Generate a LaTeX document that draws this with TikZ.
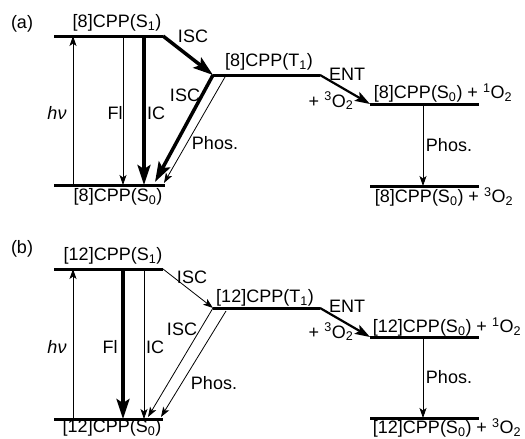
\documentclass[tikz,border=0pt]{standalone}
\usepackage{fontspec}
\setmainfont{Liberation Sans}
\usetikzlibrary{arrows.meta}

\tikzset{
  level/.style={line width=3pt},
  thinarr/.style={line width=.8pt,-{Stealth[length=10pt,width=7pt,inset=2.5pt]}},
  midarr/.style={line width=2.2pt,-{Stealth[length=15pt,width=10pt,inset=3pt]}},
  thickarr/.style={line width=3.5pt,-{Stealth[length=20pt,width=13pt,inset=4pt]}},
  lbl/.style={inner sep=0pt},
}

\begin{document}
\begin{tikzpicture}[x=1pt,y=-1pt,font=\fontsize{18}{21}\selectfont]
\useasboundingbox (0,0) rectangle (525,439);
% columns of the vertical arrows
\coordinate (xhv) at (73,0);
\coordinate (xfl) at (123,0);
\coordinate (xic) at (144,0);
\coordinate (xph) at (423,0);
% (a) [8]CPP
\node[lbl] (alab) at (22,24) {(a)};
\coordinate (aS1w) at (54,36);
\coordinate (aS1e) at (163,36);
\coordinate (aS0w) at (54,185);
\coordinate (aS0e) at (165,185);
\coordinate (aT1w) at (213,75);
\coordinate (aT1e) at (320,75);
\coordinate (aOw) at (370,104);
\coordinate (aOe) at (479,104);
\coordinate (aGw) at (370,186);
\coordinate (aGe) at (479,186);
\coordinate (aIsc) at (155,182);
\coordinate (aPh1) at (225,77);
\coordinate (aPh2) at (164,183);
\draw[level] (aS1w) -- (aS1e);
\draw[level] (aS0w) -- (aS0e);
\draw[level] (aT1w) -- (aT1e);
\draw[level] (aOw) -- (aOe);
\draw[level] (aGw) -- (aGe);
\node[lbl] (aS1) at (117,23) {[8]CPP(S\textsubscript{1})};
\node[lbl] (aS0) at (118,197) {[8]CPP(S\textsubscript{0})};
\node[lbl] (aT1) at (269,62) {[8]CPP(T\textsubscript{1})};
\node[lbl] (aO) at (443,93) {[8]CPP(S\textsubscript{0}) + \textsuperscript{1}O\textsubscript{2}};
\node[lbl] (aG) at (444,197) {[8]CPP(S\textsubscript{0}) + \textsuperscript{3}O\textsubscript{2}};
\draw[thinarr] (xhv |- aS0w) -- (xhv |- aS1w);
\draw[thinarr] (xfl |- aS1w) -- (xfl |- aS0w);
\draw[thickarr] (xic |- aS1w) -- (xic |- aS0w);
\draw[thickarr] (aS1e) -- (aT1w);
\draw[thickarr] (aT1w) -- (aIsc);
\draw[thinarr] (aPh1) -- (aPh2);
\draw[midarr] (aT1e) -- (aOw);
\draw[thinarr] (xph |- aOw) -- (xph |- aGw);
\node[lbl] (ahv) at (57,113) {\textit{hν}};
\node[lbl] (afl) at (115,113) {Fl};
\node[lbl] (aic) at (156,113) {IC};
\node[lbl] (aisc1) at (193,36) {ISC};
\node[lbl] (aisc2) at (185,95) {ISC};
\node[lbl] (aph) at (215,143) {Phos.};
\node[lbl] (aent) at (347,74) {ENT};
\node[lbl] (ao2) at (331,101) {+ \textsuperscript{3}O\textsubscript{2}};
\node[lbl] (aphr) at (449,145) {Phos.};
% (b) [12]CPP
\node[lbl] (blab) at (22,249) {(b)};
\coordinate (bS1w) at (54,269);
\coordinate (bS1e) at (163,269);
\coordinate (bS0w) at (54,419);
\coordinate (bS0e) at (163,419);
\coordinate (bT1w) at (213,308);
\coordinate (bT1e) at (320,308);
\coordinate (bOw) at (370,337);
\coordinate (bOe) at (479,337);
\coordinate (bGw) at (370,418);
\coordinate (bGe) at (479,418);
\coordinate (bIsc) at (148,417);
\coordinate (bPh1) at (226,311);
\coordinate (bPh2) at (161,417);
\draw[level] (bS1w) -- (bS1e);
\draw[level] (bS0w) -- (bS0e);
\draw[level] (bT1w) -- (bT1e);
\draw[level] (bOw) -- (bOe);
\draw[level] (bGw) -- (bGe);
\node[lbl] (bS1) at (113,256) {[12]CPP(S\textsubscript{1})};
\node[lbl] (bS0) at (112,428) {[12]CPP(S\textsubscript{0})};
\node[lbl] (bT1) at (265,298) {[12]CPP(T\textsubscript{1})};
\node[lbl] (bO) at (447,327) {[12]CPP(S\textsubscript{0}) + \textsuperscript{1}O\textsubscript{2}};
\node[lbl] (bG) at (447,428) {[12]CPP(S\textsubscript{0}) + \textsuperscript{3}O\textsubscript{2}};
\draw[thinarr] (xhv |- bS0w) -- (xhv |- bS1w);
\draw[thickarr] (xfl |- bS1w) -- (xfl |- bS0w);
\draw[thinarr] (xic |- bS1w) -- (xic |- bS0w);
\draw[thinarr] (bS1e) -- (bT1w);
\draw[thinarr] (bT1w) -- (bIsc);
\draw[thinarr] (bPh1) -- (bPh2);
\draw[midarr] (bT1e) -- (bOw);
\draw[thinarr] (xph |- bOw) -- (xph |- bGw);
\node[lbl] (bhv) at (57,347) {\textit{hν}};
\node[lbl] (bfl) at (110,347) {Fl};
\node[lbl] (bic) at (155,347) {IC};
\node[lbl] (bisc1) at (192,277) {ISC};
\node[lbl] (bisc2) at (182,329) {ISC};
\node[lbl] (bph) at (214,383) {Phos.};
\node[lbl] (bent) at (347,306) {ENT};
\node[lbl] (bo2) at (331,332) {+ \textsuperscript{3}O\textsubscript{2}};
\node[lbl] (bphr) at (449,377) {Phos.};
\end{tikzpicture}
\end{document}
